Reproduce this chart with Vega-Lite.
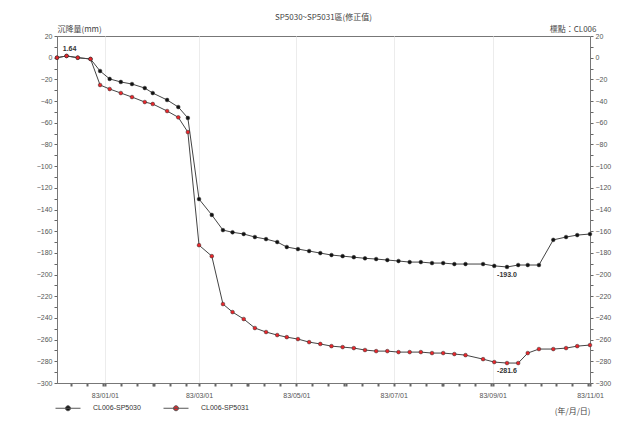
{
  "$schema": "https://vega.github.io/schema/vega-lite/v6.json",
  "width": 533,
  "height": 347,
  "autosize": "none",
  "padding": {"left": 57, "top": 36, "right": 38, "bottom": 51},
  "background": "white",
  "config": {
    "font": "Liberation Sans",
    "view": {"stroke": "#777", "strokeWidth": 1}
  },
  "title": {"text": "SP5030~SP5031區(修正值)", "font": "Noto Sans CJK TC", "fontSize": 8, "fontWeight": "normal", "color": "#444", "offset": 3, "anchor": "middle"},
  "datasets": {
    "obs": [
      {"date": "1993-12-02", "series": "CL006-SP5030", "value": 0},
      {"date": "1993-12-08", "series": "CL006-SP5030", "value": 1.6},
      {"date": "1993-12-15", "series": "CL006-SP5030", "value": 0},
      {"date": "1993-12-23", "series": "CL006-SP5030", "value": -1.2},
      {"date": "1993-12-29", "series": "CL006-SP5030", "value": -12.3},
      {"date": "1994-01-04", "series": "CL006-SP5030", "value": -19.6},
      {"date": "1994-01-11", "series": "CL006-SP5030", "value": -22.4},
      {"date": "1994-01-18", "series": "CL006-SP5030", "value": -24.3},
      {"date": "1994-01-26", "series": "CL006-SP5030", "value": -28},
      {"date": "1994-01-31", "series": "CL006-SP5030", "value": -32.6},
      {"date": "1994-02-09", "series": "CL006-SP5030", "value": -39},
      {"date": "1994-02-16", "series": "CL006-SP5030", "value": -45.5},
      {"date": "1994-02-22", "series": "CL006-SP5030", "value": -55.6},
      {"date": "1994-03-01", "series": "CL006-SP5030", "value": -130.4},
      {"date": "1994-03-09", "series": "CL006-SP5030", "value": -145},
      {"date": "1994-03-16", "series": "CL006-SP5030", "value": -159},
      {"date": "1994-03-22", "series": "CL006-SP5030", "value": -161},
      {"date": "1994-03-29", "series": "CL006-SP5030", "value": -162.6},
      {"date": "1994-04-05", "series": "CL006-SP5030", "value": -165.4},
      {"date": "1994-04-12", "series": "CL006-SP5030", "value": -167.3},
      {"date": "1994-04-19", "series": "CL006-SP5030", "value": -170},
      {"date": "1994-04-25", "series": "CL006-SP5030", "value": -174.6},
      {"date": "1994-05-02", "series": "CL006-SP5030", "value": -176.5},
      {"date": "1994-05-09", "series": "CL006-SP5030", "value": -178.3},
      {"date": "1994-05-16", "series": "CL006-SP5030", "value": -180.2},
      {"date": "1994-05-23", "series": "CL006-SP5030", "value": -182},
      {"date": "1994-05-30", "series": "CL006-SP5030", "value": -183},
      {"date": "1994-06-06", "series": "CL006-SP5030", "value": -184},
      {"date": "1994-06-13", "series": "CL006-SP5030", "value": -185},
      {"date": "1994-06-20", "series": "CL006-SP5030", "value": -185.7},
      {"date": "1994-06-27", "series": "CL006-SP5030", "value": -186.6},
      {"date": "1994-07-04", "series": "CL006-SP5030", "value": -187.5},
      {"date": "1994-07-11", "series": "CL006-SP5030", "value": -188.5},
      {"date": "1994-07-18", "series": "CL006-SP5030", "value": -188.5},
      {"date": "1994-07-25", "series": "CL006-SP5030", "value": -189.4},
      {"date": "1994-08-01", "series": "CL006-SP5030", "value": -189.4},
      {"date": "1994-08-08", "series": "CL006-SP5030", "value": -190.3},
      {"date": "1994-08-15", "series": "CL006-SP5030", "value": -190.3},
      {"date": "1994-08-26", "series": "CL006-SP5030", "value": -190.3},
      {"date": "1994-09-02", "series": "CL006-SP5030", "value": -192},
      {"date": "1994-09-10", "series": "CL006-SP5030", "value": -193},
      {"date": "1994-09-17", "series": "CL006-SP5030", "value": -191.2},
      {"date": "1994-09-23", "series": "CL006-SP5030", "value": -191.2},
      {"date": "1994-09-30", "series": "CL006-SP5030", "value": -191.2},
      {"date": "1994-10-09", "series": "CL006-SP5030", "value": -168},
      {"date": "1994-10-17", "series": "CL006-SP5030", "value": -165.4},
      {"date": "1994-10-24", "series": "CL006-SP5030", "value": -163.6},
      {"date": "1994-11-01", "series": "CL006-SP5030", "value": -162.6},
      {"date": "1993-12-02", "series": "CL006-SP5031", "value": 0},
      {"date": "1993-12-08", "series": "CL006-SP5031", "value": 1.6},
      {"date": "1993-12-15", "series": "CL006-SP5031", "value": 0},
      {"date": "1993-12-23", "series": "CL006-SP5031", "value": -1.2},
      {"date": "1993-12-29", "series": "CL006-SP5031", "value": -25.2},
      {"date": "1994-01-04", "series": "CL006-SP5031", "value": -28.9},
      {"date": "1994-01-11", "series": "CL006-SP5031", "value": -32.6},
      {"date": "1994-01-18", "series": "CL006-SP5031", "value": -36.3},
      {"date": "1994-01-26", "series": "CL006-SP5031", "value": -40.9},
      {"date": "1994-01-31", "series": "CL006-SP5031", "value": -42.7},
      {"date": "1994-02-09", "series": "CL006-SP5031", "value": -49.2},
      {"date": "1994-02-16", "series": "CL006-SP5031", "value": -55},
      {"date": "1994-02-22", "series": "CL006-SP5031", "value": -68.6},
      {"date": "1994-03-01", "series": "CL006-SP5031", "value": -172.9},
      {"date": "1994-03-09", "series": "CL006-SP5031", "value": -183},
      {"date": "1994-03-16", "series": "CL006-SP5031", "value": -227.2},
      {"date": "1994-03-22", "series": "CL006-SP5031", "value": -234.6},
      {"date": "1994-03-29", "series": "CL006-SP5031", "value": -241},
      {"date": "1994-04-05", "series": "CL006-SP5031", "value": -249.3},
      {"date": "1994-04-12", "series": "CL006-SP5031", "value": -253},
      {"date": "1994-04-19", "series": "CL006-SP5031", "value": -255.8},
      {"date": "1994-04-25", "series": "CL006-SP5031", "value": -257.7},
      {"date": "1994-05-02", "series": "CL006-SP5031", "value": -259.5},
      {"date": "1994-05-09", "series": "CL006-SP5031", "value": -262.3},
      {"date": "1994-05-16", "series": "CL006-SP5031", "value": -264},
      {"date": "1994-05-23", "series": "CL006-SP5031", "value": -266},
      {"date": "1994-05-30", "series": "CL006-SP5031", "value": -266.9},
      {"date": "1994-06-06", "series": "CL006-SP5031", "value": -267.8},
      {"date": "1994-06-13", "series": "CL006-SP5031", "value": -269.6},
      {"date": "1994-06-20", "series": "CL006-SP5031", "value": -270.6},
      {"date": "1994-06-27", "series": "CL006-SP5031", "value": -270.6},
      {"date": "1994-07-04", "series": "CL006-SP5031", "value": -271.5},
      {"date": "1994-07-11", "series": "CL006-SP5031", "value": -271.5},
      {"date": "1994-07-18", "series": "CL006-SP5031", "value": -271.5},
      {"date": "1994-07-25", "series": "CL006-SP5031", "value": -272.4},
      {"date": "1994-08-01", "series": "CL006-SP5031", "value": -272.4},
      {"date": "1994-08-08", "series": "CL006-SP5031", "value": -273.3},
      {"date": "1994-08-15", "series": "CL006-SP5031", "value": -274.3},
      {"date": "1994-08-26", "series": "CL006-SP5031", "value": -278},
      {"date": "1994-09-02", "series": "CL006-SP5031", "value": -280.7},
      {"date": "1994-09-10", "series": "CL006-SP5031", "value": -281.6},
      {"date": "1994-09-17", "series": "CL006-SP5031", "value": -281.6},
      {"date": "1994-09-23", "series": "CL006-SP5031", "value": -272.4},
      {"date": "1994-09-30", "series": "CL006-SP5031", "value": -268.7},
      {"date": "1994-10-09", "series": "CL006-SP5031", "value": -268.7},
      {"date": "1994-10-17", "series": "CL006-SP5031", "value": -267.8},
      {"date": "1994-10-24", "series": "CL006-SP5031", "value": -266},
      {"date": "1994-11-01", "series": "CL006-SP5031", "value": -265}
    ],
    "notes": [
      {"date": "1993-12-08", "value": 1.6, "label": "1.64", "pos": "above"},
      {"date": "1994-09-10", "value": -193, "label": "-193.0", "pos": "below"},
      {"date": "1994-09-10", "value": -281.6, "label": "-281.6", "pos": "below"}
    ]
  },
  "encoding": {
    "x": {
      "field": "date",
      "type": "temporal",
      "scale": {"type": "utc", "domain": [{"year": 1993, "month": 12, "date": 2, "utc": true}, {"year": 1994, "month": 11, "date": 1, "utc": true}]},
      "axis": {
        "tickCount": {"interval": "day", "step": 10},
        "labelExpr": "utcdate(datum.value) == 1 && utcmonth(datum.value) % 2 == 0 ? (utcyear(datum.value) - 1911) + '/' + utcFormat(datum.value, '%m/%d') : ''",
        "labelOverlap": false,
        "labelFlush": false,
        "labelFontSize": 7,
        "labelColor": "#555",
        "labelPadding": 5,
        "tickSize": 3,
        "tickWidth": 2,
        "tickColor": "#666",
        "domainColor": "#777",
        "grid": true,
        "gridColor": "#ececec",
        "gridOpacity": {"condition": {"test": "utcdate(datum.value) == 1 && utcmonth(datum.value) % 2 == 0", "value": 1}, "value": 0},
        "title": "(年/月/日)",
        "titleFont": "Noto Sans CJK TC",
        "titleFontSize": 8,
        "titleFontWeight": "normal",
        "titleColor": "#444",
        "titleX": 533,
        "titleY": 28,
        "titleAlign": "right",
        "titleBaseline": "middle"
      }
    }
  },
  "layer": [
    {
      "data": {"name": "obs"},
      "mark": {"type": "line", "color": "#444", "strokeWidth": 1},
      "encoding": {
        "y": {
          "field": "value",
          "type": "quantitative",
          "scale": {"domain": [-300, 20], "nice": false, "zero": false},
          "axis": {
            "values": [20, 10, 0, -10, -20, -30, -40, -50, -60, -70, -80, -90, -100, -110, -120, -130, -140, -150, -160, -170, -180, -190, -200, -210, -220, -230, -240, -250, -260, -270, -280, -290, -300],
            "labelExpr": "datum.value % 20 == 0 ? datum.label : ''",
            "labelFlush": false,
            "labelOverlap": false,
            "labelFontSize": 7,
            "labelColor": "#555",
            "tickSize": 3,
            "tickColor": "#666",
            "domainColor": "#777",
            "grid": false,
            "title": "沉降量(mm)",
            "titleFont": "Noto Sans CJK TC",
            "titleFontSize": 8,
            "titleFontWeight": "normal",
            "titleColor": "#444",
            "titleAngle": 0,
            "titleX": 0,
            "titleY": -3,
            "titleAlign": "left",
            "titleBaseline": "bottom"
          }
        },
        "detail": {"field": "series"}
      }
    },
    {
      "data": {"name": "obs"},
      "mark": {"type": "point", "filled": true, "size": 14, "opacity": 1, "stroke": "#333", "strokeWidth": 0.5},
      "encoding": {
        "y": {
          "field": "value",
          "type": "quantitative",
          "scale": {"domain": [-300, 20], "nice": false, "zero": false},
          "axis": {
            "orient": "right",
            "values": [20, 10, 0, -10, -20, -30, -40, -50, -60, -70, -80, -90, -100, -110, -120, -130, -140, -150, -160, -170, -180, -190, -200, -210, -220, -230, -240, -250, -260, -270, -280, -290, -300],
            "labelExpr": "datum.value % 20 == 0 ? datum.label : ''",
            "labelFlush": false,
            "labelOverlap": false,
            "labelFontSize": 7,
            "labelColor": "#555",
            "tickSize": 3,
            "tickColor": "#666",
            "domainColor": "#777",
            "grid": false,
            "title": "標點：CL006",
            "titleFont": "Noto Sans CJK TC",
            "titleFontSize": 8,
            "titleFontWeight": "normal",
            "titleColor": "#444",
            "titleAngle": 0,
            "titleX": 6,
            "titleY": -3,
            "titleAlign": "right",
            "titleBaseline": "bottom"
          }
        },
        "color": {
          "field": "series",
          "type": "nominal",
          "scale": {"domain": ["CL006-SP5030", "CL006-SP5031"], "range": ["#111111", "#e8262b"]},
          "legend": {
            "orient": "none",
            "legendX": -2,
            "legendY": 359,
            "direction": "horizontal",
            "title": null,
            "symbolType": "M-1,0H1M-0.2,0A0.2,0.2,0,1,1,0.2,0A0.2,0.2,0,1,1,-0.2,0",
            "symbolSize": 625,
            "symbolStrokeColor": "#555",
            "symbolStrokeWidth": 1,
            "labelFontSize": 7,
            "labelColor": "#333",
            "labelOffset": 12,
            "columnPadding": 20
          }
        }
      }
    },
    {
      "data": {"name": "notes"},
      "transform": [{"filter": "datum.pos == 'above'"}],
      "mark": {"type": "text", "fontSize": 7, "color": "#333", "fontWeight": "bold", "dy": -7, "dx": 3},
      "encoding": {
        "y": {"field": "value", "type": "quantitative", "scale": {"domain": [-300, 20], "nice": false, "zero": false}, "axis": null},
        "text": {"field": "label"}
      }
    },
    {
      "data": {"name": "notes"},
      "transform": [{"filter": "datum.pos == 'below'"}],
      "mark": {"type": "text", "fontSize": 7, "color": "#333", "fontWeight": "bold", "dy": 8},
      "encoding": {
        "y": {"field": "value", "type": "quantitative", "scale": {"domain": [-300, 20], "nice": false, "zero": false}, "axis": null},
        "text": {"field": "label"}
      }
    }
  ],
  "resolve": {"axis": {"y": "independent"}}
}
